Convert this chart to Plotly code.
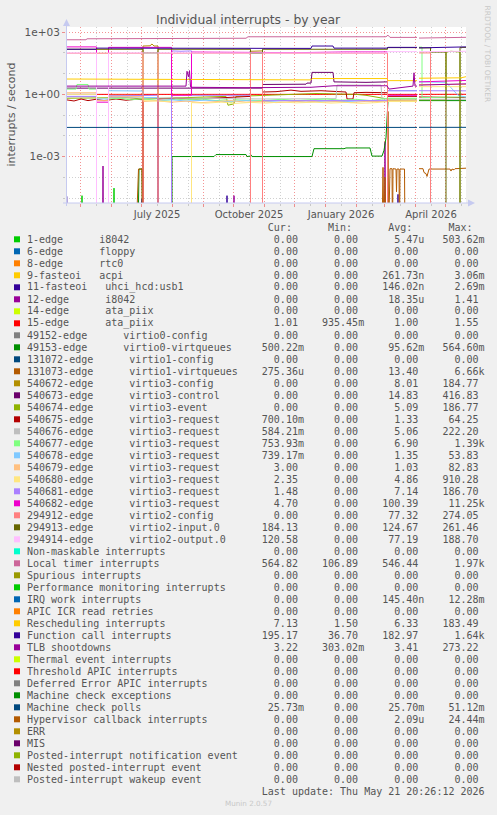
import datetime as dt
import plotly.graph_objects as go

# ---------------- geometry (px) ----------------
W, H = 497, 815
PL, PR, PT, PB = 66, 466, 27, 203

START = dt.datetime(2025, 4, 16, 20, 26)
END = dt.datetime(2026, 5, 21, 20, 26)

PALETTE = ["#00CC00", "#0066B3", "#FF8000", "#FFCC00", "#330099", "#990099", "#CCFF00",
           "#FF0000", "#808080", "#008F00", "#00487D", "#B35A00", "#B38F00", "#6B006B",
           "#8FB300", "#B30000", "#BEBEBE", "#80FF80", "#80C9FF", "#FFC080", "#FFE680",
           "#AA80FF", "#EE00CC", "#FF8080", "#666600", "#FFBFFF", "#00FFCC", "#CC6699",
           "#999900"]

# ---------------- legend table ----------------
LABELS = ["1-edge      i8042", "6-edge      floppy", "8-edge      rtc0", "9-fasteoi   acpi",
          "11-fasteoi   uhci_hcd:usb1", "12-edge      i8042", "14-edge      ata_piix",
          "15-edge      ata_piix", "49152-edge      virtio0-config",
          "49153-edge      virtio0-virtqueues", "131072-edge      virtio1-config",
          "131073-edge      virtio1-virtqueues", "540672-edge      virtio3-config",
          "540673-edge      virtio3-control", "540674-edge      virtio3-event",
          "540675-edge      virtio3-request", "540676-edge      virtio3-request",
          "540677-edge      virtio3-request", "540678-edge      virtio3-request",
          "540679-edge      virtio3-request", "540680-edge      virtio3-request",
          "540681-edge      virtio3-request", "540682-edge      virtio3-request",
          "294912-edge      virtio2-config", "294913-edge      virtio2-input.0",
          "294914-edge      virtio2-output.0", "Non-maskable interrupts",
          "Local timer interrupts", "Spurious interrupts", "Performance monitoring interrupts",
          "IRQ work interrupts", "APIC ICR read retries", "Rescheduling interrupts",
          "Function call interrupts", "TLB shootdowns", "Thermal event interrupts",
          "Threshold APIC interrupts", "Deferred Error APIC interrupts",
          "Machine check exceptions", "Machine check polls", "Hypervisor callback interrupts",
          "ERR", "MIS", "Posted-interrupt notification event", "Nested posted-interrupt event",
          "Posted-interrupt wakeup event"]

CUR = ["0.00", "0.00", "0.00", "0.00", "0.00", "0.00", "0.00", "1.01", "0.00", "500.22m",
       "0.00", "275.36u", "0.00", "0.00", "0.00", "700.10m", "584.21m", "753.93m", "739.17m",
       "3.00", "2.35", "1.48", "4.70", "0.00", "184.13", "120.58", "0.00", "564.82", "0.00",
       "0.00", "0.00", "0.00", "7.13", "195.17", "3.22", "0.00", "0.00", "0.00", "0.00",
       "25.73m", "0.00", "0.00", "0.00", "0.00", "0.00", "0.00"]
MINS = ["0.00", "0.00", "0.00", "0.00", "0.00", "0.00", "0.00", "935.45m", "0.00", "0.00",
        "0.00", "0.00", "0.00", "0.00", "0.00", "0.00", "0.00", "0.00", "0.00", "0.00",
        "0.00", "0.00", "0.00", "0.00", "0.00", "0.00", "0.00", "106.89", "0.00", "0.00",
        "0.00", "0.00", "1.50", "36.70", "303.02m", "0.00", "0.00", "0.00", "0.00", "0.00",
        "0.00", "0.00", "0.00", "0.00", "0.00", "0.00"]
AVGS = ["5.47u", "0.00", "0.00", "261.73n", "146.02n", "18.35u", "0.00", "1.00", "0.00",
        "95.62m", "0.00", "13.40", "8.01", "14.83", "5.09", "1.33", "5.06", "6.90", "1.35",
        "1.03", "4.86", "7.14", "100.39", "77.32", "124.67", "77.19", "0.00", "546.44", "0.00",
        "0.00", "145.40n", "0.00", "6.33", "182.97", "3.41", "0.00", "0.00", "0.00", "0.00",
        "25.70m", "2.09u", "0.00", "0.00", "0.00", "0.00", "0.00"]
MAXS = ["503.62m", "0.00", "0.00", "3.06m", "2.69m", "1.41", "0.00", "1.55", "0.00",
        "564.60m", "0.00", "6.66k", "184.77", "416.83", "186.77", "64.25", "222.20", "1.39k",
        "53.83", "82.83", "910.28", "186.70", "11.25k", "274.05", "261.46", "188.70", "0.00",
        "1.97k", "0.00", "0.00", "12.28m", "0.00", "183.49", "1.64k", "273.22", "0.00", "0.00",
        "0.00", "0.00", "51.12m", "24.44m", "0.00", "0.00", "0.00", "0.00", "0.00"]

X_LABELS = ["July 2025", "October 2025", "January 2026", "April 2026"]
X_LABEL_DATES = ["2025-07-16 20:26", "2025-10-16 20:26", "2026-01-16 20:26", "2026-04-16 20:26"]
Y_TICKS = [1000, 1, 0.001]
Y_TICKTEXT = ["1e+03", "1e+00", "1e-03"]
Y_MINOR = [100, 10, 0.1, 0.01, 1e-4, 1e-5]

# ---------------- series (day offset from START, value) ----------------
edge1_d = [0, 15.5, 16, 16.5, 47.5, 48, 48.5, 400]
edge1_v = [0, 0, 1.3e-5, 0, 0, 3e-5, 0, 0]

fasteoi11_d = [0, 0.7, 1.4, 75.6, 76, 76.4, 160.6, 161, 161.4, 331.6, 332, 332.4, 400]
fasteoi11_v = [0, 1.2e-5, 0, 0, 9e-6, 0, 0, 1.3e-5, 0, 0, 1.5e-5, 0, 0]

edge12_d = [0, 36.6, 37, 37.4, 167.6, 168, 168.4, 318.6, 319, 319.4, 400]
edge12_v = [0, 0, 3.5e-4, 0, 0, 1.3e-5, 0, 0, 5e-3, 0, 0]

edge15_d = [0, 351, 352, 353, 400]
edge15_v = [1.0, 1.0, None, 1.0, 1.01]

virtio0q_d = [0, 72, 73, 76, 76.5, 106, 106, 148, 150, 180, 181, 184, 185, 186, 246, 248, 278,
              280, 304, 306, 316, 318, 320, 321, 322, 351, 352, 353, 400]
virtio0q_v = [0, 0, 2.5e-4, 2.5e-4, 0, 0, 1.0e-3, 1.0e-3, 1.25e-3, 1.25e-3, 1.0e-3, 1.05e-3,
              1.2e-3, 1.0e-3, 1.0e-3, 2.4e-3, 2.4e-3, 2.6e-3, 2.6e-3, 1.05e-3, 1.05e-3, 2.0e-3,
              8e-3, 0.1, 0.5, 0.48, None, 0.5, 0.5]

virtio1q_d = [0, 70, 72.5, 76, 76.5, 316, 317, 318, 319, 320, 321.5, 322, 322.5, 324, 326, 326.5,
              327, 330, 330.5, 331, 333, 333.5, 334, 338.5, 339, 351, 352, 353, 357, 358, 360,
              361, 362, 363, 384, 385, 386, 388, 389, 400]
virtio1q_v = [0, 0, 2.5e-4, 2.5e-4, 0, 0, 3e-4, 0, 1e-4, 0, 0, 0.15, 0, 2.6e-4, 2.6e-4, 0,
              2.6e-4, 2.5e-4, 2e-5, 2.5e-4, 2.5e-4, 0, 2.5e-4, 2.5e-4, 0, 0, None, 2.6e-4, 2.6e-4,
              1.7e-4, 1.5e-4, 1.1e-4, 1.6e-4, 2.5e-4, 2.5e-4, 2e-4, 2.5e-4, 2.3e-4, 2.6e-4, 2.75e-4]

cfg3_d = [0, 77, 77, 80, 84, 86, 88, 92, 92, 184.5, 184.5, 196.5, 196.5, 351, 352, 353, 400]
cfg3_v = [0, 0, 215, 210, 220, 270, 215, 215, 0, 0, 120, 125, 0, 0, None, 0, 0]

ctl3_d = [0, 196.5, 196.5, 240, 241, 245, 246, 267, 268, 300, 321.5, 321.5, 351, 352, 353, 400]
ctl3_v = [2.0, 2.0, 3.0, 3.1, 3.5, 3.5, 11.5, 11.5, 4.0, 3.8, 4.0, 0, 0, None, 0, 0]

evt3_d = [0, 60, 77, 140, 160, 162, 168, 170, 200, 250, 290, 300, 321.5, 351, 352, 353, 380,
          380, 385, 394, 394, 400]
evt3_v = [0.65, 0.7, 0.6, 0.75, 0.8, 0.3, 0.35, 0.8, 0.9, 1.1, 1.0, 0.9, 0.6, 0.6, None, 0.55,
          0.55, 110, 120, 110, 0, 0]

req675_d = [0, 8, 15, 22, 30, 38, 50, 60, 70, 77, 77, 92, 92, 110, 130, 150, 170, 184.5, 184.5,
            196.5, 196.5, 210, 225, 235, 255, 275, 280, 281, 287, 288, 300, 321.5, 321.5, 351,
            352, 353, 400]
req675_v = [0.55, 0.48, 0.6, 0.5, 0.58, 0.5, 0.6, 0.52, 0.58, 0.55, 0, 0, 0.6, 0.65, 0.6, 0.65,
            0.75, 0.8, 0, 0, 1.3, 1.35, 1.6, 1.4, 1.5, 1.3, 1.3, 0.6, 0.6, 1.2, 1.25, 1.2, 0.8,
            0.8, None, 0.75, 0.7]

req676_d = [0, 30.5, 30.5, 42.5, 42.5, 77, 120, 197, 240, 270, 271, 315, 316, 321.5, 351, 352,
            353, 400]
req676_v = [0.75, 0.78, 0, 0, 0.7, 0.7, 0.65, 0.6, 0.62, 0.62, 2.8, 2.8, 0.6, 0.6, 0.6, None,
            0.58, 0.58]

req677_d = [0, 10, 11, 22, 23, 30.5, 30.5, 42.5, 42.5, 55, 65, 77, 95, 110, 120, 135, 150, 161,
            165, 169, 180, 200, 215, 230, 245, 260, 275, 290, 305, 321.5, 351, 352, 353, 356,
            356, 380, 400]
req677_v = [1.8, 1.8, 3.0, 3.0, 1.8, 1.8, 0, 0, 0.6, 0.65, 0.55, 0.6, 0.5, 0.58, 0.55, 0.6, 0.5,
            0.55, 0.38, 0.55, 0.52, 0.5, 0.58, 0.5, 0.55, 0.6, 0.52, 0.58, 0.5, 0.65, 0.65, None,
            190, 190, 0.7, 0.75, 0.75]

req678_d = [0, 30.5, 30.5, 42.5, 42.5, 77, 77, 92, 92, 105, 120, 140, 160, 180, 200, 220, 240,
            260, 280, 300, 321.5, 321.5, 351, 352, 353, 380, 392, 400]
req678_v = [1.0, 1.0, 0.6, 0.6, 1.5, 1.45, 0.7, 0.7, 0.5, 0.55, 0.48, 0.52, 0.45, 0.5, 0.45,
            0.5, 0.42, 0.48, 0.45, 0.5, 0.45, 1.5, 1.5, None, 4.0, 3.8, 0.9, 0.74]

req679_d = [0, 30.5, 30.5, 42.5, 42.5, 77, 77, 90, 105, 120, 135, 150, 165, 180, 195, 210, 225,
            240, 255, 270, 285, 300, 321.5, 321.5, 351, 352, 353, 400]
req679_v = [1.2, 1.2, 0.5, 0.5, 0.8, 0.8, 0.45, 0.5, 0.42, 0.47, 0.4, 0.45, 0.5, 0.42, 0.46,
            0.4, 0.44, 0.48, 0.42, 0.45, 0.4, 0.46, 0.45, 0.5, 0.5, None, 3.0, 3.0]

req680_d = [0, 30.5, 30.5, 42.5, 42.5, 77, 77, 105.5, 105.5, 125.5, 125.5, 140, 155, 170, 185,
            200, 215, 230, 250, 265, 280, 295, 310, 321.5, 321.5, 351, 352, 353, 400]
req680_v = [1.0, 1.0, 150, 150, 0.9, 0.9, 0.5, 0.45, 0, 0, 0.4, 0.38, 0.42, 0.37, 0.41, 0.38,
            0.43, 0.39, 0.42, 0.38, 0.41, 0.37, 0.4, 0.42, 0.45, 0.45, None, 2.35, 2.35]

req681_d = [0, 30.5, 30.5, 42.5, 42.5, 77, 92, 92, 105.5, 105.5, 115, 125.5, 125.5, 184.5,
            184.5, 196.5, 196.5, 321.5, 321.5, 351, 352, 353, 400]
req681_v = [0.8, 0.8, 0, 0, 0.85, 0.9, 0.9, 0, 0, 125, 120, 125, 0.9, 0.9, 0, 0, 0.5, 0.5, 1.5,
            1.5, None, 1.5, 1.48]

req682_d = [0, 15, 30.5, 30.5, 42.5, 42.5, 77, 105.5, 105.5, 125.5, 125.5, 190, 230, 280, 321.5,
            321.5, 351, 352, 353, 400]
req682_v = [195, 200, 195, 0.42, 0.42, 185, 185, 185, 0.9, 0.9, 110, 105, 103, 111, 111, 0.9,
            0.9, None, 4.0, 4.7]

v2cfg_d = [0, 77, 77, 92, 92, 184.5, 184.5, 196.5, 196.5, 321.5, 321.5, 351, 352, 353, 364.5,
           364.5, 400]
v2cfg_v = [97, 97, 0, 0, 97, 97, 0, 0, 97, 97, 0, 0, None, 100, 100, 0, 0]

v2in_d = [0, 77, 77, 92, 92, 184.5, 184.5, 196.5, 196.5, 321.5, 321.5, 330, 332, 340, 342, 351,
          352, 353, 364.5, 364.5, 380, 380, 394, 394, 400]
v2in_v = [150, 150, 100, 100, 150, 150, 97, 97, 150, 150, 180, 180, 195, 180, 190, 180, None,
          175, 175, 110, 110, 0, 0, 184, 184]

v2out_d = [0, 30.5, 30.5, 42.5, 42.5, 321.5, 321.5, 351, 352, 353, 400]
v2out_v = [100, 100, 0, 0, 100, 100, 115, 115, None, 115, 120]

timer_d = [0, 20, 21, 120, 125, 180, 182, 320, 322, 324, 351, 352, 353, 400]
timer_v = [430, 430, 480, 480, 510, 510, 600, 600, 720, 560, 560, None, 520, 565]

resched_d = [0, 60, 125, 245, 246, 321, 322, 351, 352, 353, 395, 400]
resched_v = [5.5, 5.4, 5.0, 5.0, 5.8, 5.8, 4.6, 4.6, None, 6.0, 6.3, 7.13]

fcall_d = [0, 30, 31, 120, 245, 246, 267, 268, 321, 322, 351, 352, 353, 400]
fcall_v = [150, 150, 170, 168, 165, 215, 215, 170, 170, 185, 185, None, 175, 195]

tlb_d = [0, 60, 120, 121, 122.5, 123.5, 124.5, 126, 180, 245, 268, 321, 323, 347, 348, 349, 351,
         352, 353, 400]
tlb_v = [2.5, 2.4, 2.5, 13, 7, 14, 2.3, 2.2, 2.1, 2.2, 2.6, 2.6, 1.8, 2.5, 11, 2.5, 2.5, None,
         2.8, 3.22]

mcp_d = [0, 351, 352, 353, 400]
mcp_v = [0.0255, 0.0255, None, 0.0257, 0.0257]

# (legend index, days, values) in drawing order
SERIES = [(0, edge1_d, edge1_v), (4, fasteoi11_d, fasteoi11_v), (5, edge12_d, edge12_v),
          (7, edge15_d, edge15_v), (9, virtio0q_d, virtio0q_v), (11, virtio1q_d, virtio1q_v),
          (12, cfg3_d, cfg3_v), (13, ctl3_d, ctl3_v), (14, evt3_d, evt3_v),
          (15, req675_d, req675_v), (16, req676_d, req676_v), (17, req677_d, req677_v),
          (18, req678_d, req678_v), (19, req679_d, req679_v), (20, req680_d, req680_v),
          (21, req681_d, req681_v), (22, req682_d, req682_v), (23, v2cfg_d, v2cfg_v),
          (24, v2in_d, v2in_v), (25, v2out_d, v2out_v), (27, timer_d, timer_v),
          (32, resched_d, resched_v), (33, fcall_d, fcall_v), (34, tlb_d, tlb_v),
          (39, mcp_d, mcp_v)]

FLOOR = 1e-7  # zero values drawn below the visible log range (rrdtool style drop)


def colour(i):
    return PALETTE[i % len(PALETTE)]


def px_x(px):
    return (px - PL) / (PR - PL)


def px_y(py):
    return (PB - py) / (PB - PT)


fig = go.Figure()
for idx, days, vals in SERIES:
    xs = [START + dt.timedelta(days=d) for d in days]
    ys = [None if v is None else max(v, FLOOR) for v in vals]
    fig.add_trace(go.Scatter(x=xs, y=ys, mode="lines", line=dict(color=colour(idx), width=1),
                             hoverinfo="skip", showlegend=False, connectgaps=False))

# grid positions
month_starts = []
mid_months = []
y_, m_ = 2025, 5
while (y_, m_) <= (2026, 5):
    month_starts.append(dt.datetime(y_, m_, 1))
    mid_months.append(dt.datetime(y_, m_, 16, 20, 26))
    m_ += 1
    if m_ > 12:
        m_, y_ = 1, y_ + 1
lab_map = {dt.datetime.strptime(s, "%Y-%m-%d %H:%M"): t for s, t in zip(X_LABEL_DATES, X_LABELS)}
xt_text = [lab_map.get(d, "") for d in mid_months]

RED_GRID = "rgba(235,60,60,0.55)"
GREY_GRID = "rgba(150,150,150,0.45)"
TXT = "#555555"

fig.update_layout(
    width=W, height=H, autosize=False,
    margin=dict(l=PL, r=W - PR, t=PT, b=H - PB, pad=0),
    paper_bgcolor="#F0F0F0", plot_bgcolor="#FFFFFF",
    xaxis=dict(type="date", range=[START, END], showline=False, zeroline=False,
               tickvals=mid_months, ticktext=xt_text, showgrid=True, gridcolor=GREY_GRID,
               griddash="1px,2px", gridwidth=1, ticks="outside", ticklen=2, tickcolor=GREY_GRID,
               tickfont=dict(family="DejaVu Sans", size=10, color=TXT),
               minor=dict(tickvals=month_starts, showgrid=True, gridcolor=RED_GRID,
                          griddash="1px,2px", gridwidth=1, ticks="outside", ticklen=3,
                          tickcolor=RED_GRID)),
    yaxis=dict(type="log", range=[-5.24, 3.25], showline=False, zeroline=False,
               tickvals=Y_TICKS, ticktext=Y_TICKTEXT, showgrid=True, gridcolor=RED_GRID,
               griddash="1px,2px", gridwidth=1, ticks="outside", ticklen=3, tickcolor=RED_GRID,
               tickfont=dict(family="DejaVu Sans", size=10.5, color=TXT),
               minor=dict(tickvals=Y_MINOR, showgrid=True, gridcolor=GREY_GRID,
                          griddash="1px,2px", gridwidth=1, ticks="outside", ticklen=2,
                          tickcolor=GREY_GRID)),
)

shapes = []
ann = []
AX = "#C6CAF0"
# axis lines and arrows
shapes.append(dict(type="line", xref="paper", yref="paper", x0=px_x(66.5), x1=px_x(66.5),
                   y0=px_y(206), y1=px_y(22), line=dict(color=AX, width=1)))
shapes.append(dict(type="line", xref="paper", yref="paper", x0=px_x(63), x1=px_x(471),
                   y0=px_y(203), y1=px_y(203), line=dict(color=AX, width=1)))
shapes.append(dict(type="path", xref="paper", yref="paper", fillcolor=AX, line=dict(width=0),
                   path="M %f,%f L %f,%f L %f,%f Z" % (px_x(63), px_y(26), px_x(70), px_y(26),
                                                        px_x(66.5), px_y(19))))
shapes.append(dict(type="path", xref="paper", yref="paper", fillcolor=AX, line=dict(width=0),
                   path="M %f,%f L %f,%f L %f,%f Z" % (px_x(468), px_y(199.5), px_x(468),
                                                        px_y(206.5), px_x(475), px_y(203))))

# title, axis title, side text
ann.append(dict(text="Individual interrupts - by year", x=px_x(248.5), y=px_y(19.5),
                xref="paper", yref="paper", showarrow=False, xanchor="center", yanchor="middle",
                font=dict(family="DejaVu Sans", size=12.4, color=TXT)))
ann.append(dict(text="interrupts / second", x=px_x(11), y=px_y(114.5), xref="paper",
                yref="paper", showarrow=False, textangle=-90, xanchor="center",
                yanchor="middle", font=dict(family="DejaVu Sans", size=11, color=TXT)))
ann.append(dict(text="RRDTOOL / TOBI OETIKER", x=px_x(487), y=px_y(53.5), xref="paper",
                yref="paper", showarrow=False, textangle=90, xanchor="center",
                yanchor="middle", font=dict(family="DejaVu Sans", size=7.5, color="#C8C8C8")))

# legend table
NB = "\u00a0"
X0 = 26.7


def fmt(s):
    return s if s[-1].isalpha() else s + " "


def mono(txt, py):
    return dict(text=txt.replace(" ", NB), x=px_x(X0), y=px_y(py), xref="paper", yref="paper",
                showarrow=False, xanchor="left", yanchor="middle", borderpad=0, borderwidth=0,
                font=dict(family="DejaVu Sans Mono", size=10, color=TXT))


header = " " * 40 + "Cur:" + " " * 6 + "Min:" + " " * 6 + "Avg:" + " " * 6 + "Max:"
ann.append(mono(header, 227.3))
for i, lab in enumerate(LABELS):
    yc = 239.3 + 12 * i
    row = lab.ljust(36) + fmt(CUR[i]).rjust(10) + fmt(MINS[i]).rjust(10) + \
        fmt(AVGS[i]).rjust(10) + fmt(MAXS[i]).rjust(10)
    ann.append(mono(row, yc))
    shapes.append(dict(type="rect", xref="paper", yref="paper", x0=px_x(14), x1=px_x(20),
                       y0=px_y(yc + 3), y1=px_y(yc - 3), fillcolor=colour(i), line=dict(width=0)))
ann.append(mono(" " * 39 + "Last update: Thu May 21 20:26:12 2026", 791.3))
ann.append(dict(text="Munin 2.0.57", x=px_x(248.5), y=px_y(804), xref="paper", yref="paper",
                showarrow=False, xanchor="center", yanchor="middle",
                font=dict(family="DejaVu Sans", size=7.2, color="#C8C8C8")))

fig.update_layout(shapes=shapes, annotations=ann)
fig.write_html("out.html", config={"displayModeBar": False, "staticPlot": True},
               post_script="document.body.style.margin='0px';"
                           "document.body.style.background='#F0F0F0';")
